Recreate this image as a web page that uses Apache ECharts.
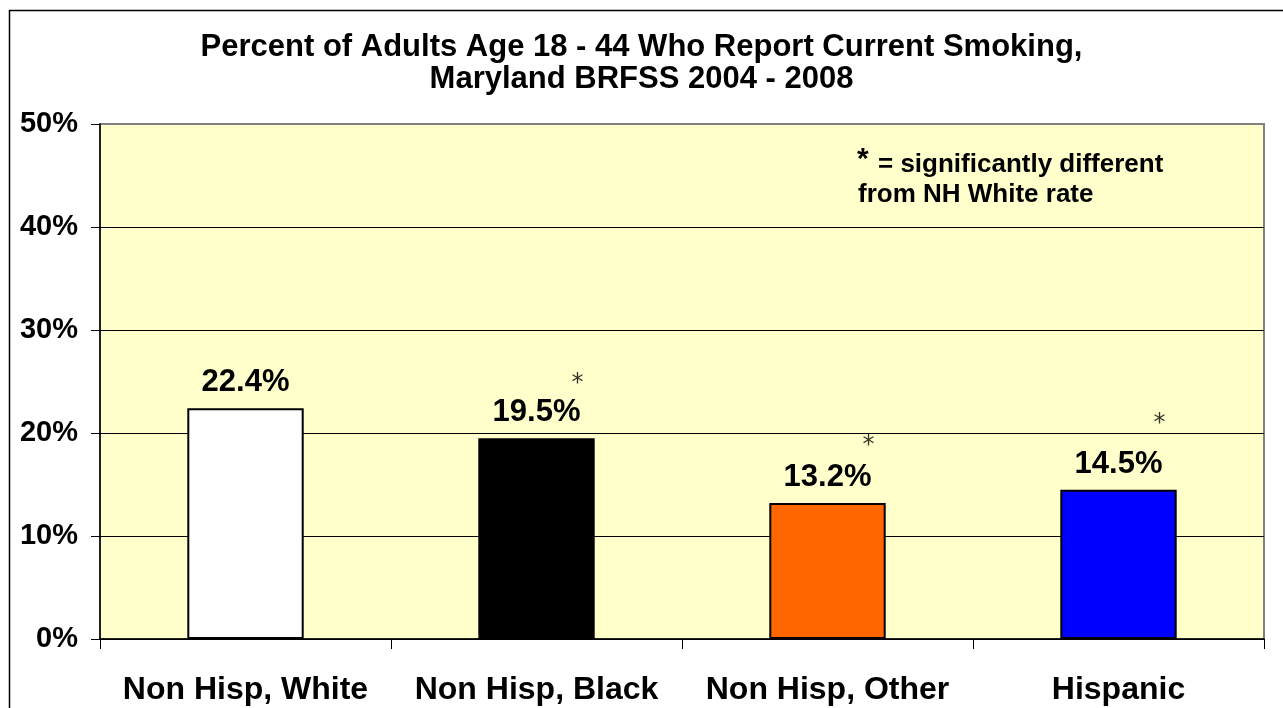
<!DOCTYPE html>
<html>
<head>
<meta charset="utf-8">
<script src="https://cdn.jsdelivr.net/npm/echarts@6/dist/echarts.min.js"></script>
<style>
html,body{margin:0;padding:0;background:#fff;}
#chart{width:1283px;height:708px;}
</style>
</head>
<body>
<div id="chart"></div>
<script>
var categories = ['Non Hisp, White', 'Non Hisp, Black', 'Non Hisp, Other', 'Hispanic'];
var values = [22.4, 19.5, 13.2, 14.5];
var barColors = ['#FFFFFF', '#000000', '#FF6600', '#0000FF'];
// significance markers (asterisk height in % units)
var sigMarks = [null, 25.4, 19.3, 21.5];
var yTicks = [0, 10, 20, 30, 40, 50];
var titleLines = ['Percent of Adults Age 18 - 44 Who Report Current Smoking,', 'Maryland BRFSS 2004 - 2008'];
var noteLines = ['= significantly different', 'from NH White rate'];

var FONT = 'Arial, "Liberation Sans", Helvetica, sans-serif';
var chart = echarts.init(document.getElementById('chart'));

var option = {
  animation: false,
  backgroundColor: '#FFFFFF',
  title: {
    text: titleLines.join('\n'),
    left: 'center',
    top: 26,
    textStyle: { fontFamily: FONT, fontWeight: 'bold', fontSize: 31, color: '#000', lineHeight: 32 }
  },
  grid: {
    left: 100, right: 19, top: 124, bottom: 69,
    show: true, backgroundColor: '#FFFFCC', borderColor: '#808080', borderWidth: 2
  },
  xAxis: {
    type: 'category',
    data: categories,
    boundaryGap: true,
    axisLine: { lineStyle: { color: '#000', width: 1.5 } },
    axisTick: { show: true, interval: 0, length: 10, inside: false, alignWithLabel: false, lineStyle: { color: '#000', width: 1 } },
    axisLabel: { interval: 0, hideOverlap: false, margin: 35, fontFamily: FONT, fontWeight: 'bold', fontSize: 32, color: '#000' }
  },
  yAxis: {
    type: 'value',
    min: yTicks[0], max: yTicks[yTicks.length - 1], interval: 10,
    axisLine: { show: true, lineStyle: { color: '#000', width: 1.5 } },
    axisTick: { show: true, length: 9, inside: false, lineStyle: { color: '#000' } },
    axisLabel: { margin: 22, formatter: '{value}%', fontFamily: FONT, fontWeight: 'bold', fontSize: 29, color: '#000' },
    splitLine: { show: true, lineStyle: { color: ['#000', '#000', '#000', '#000', '#000', '#808080'], width: 1 } }
  },
  series: [
    {
      type: 'bar',
      barWidth: '40%',
      data: values.map(function (v, i) {
        return { value: v, itemStyle: { color: barColors[i], borderColor: '#000', borderWidth: 2 } };
      }),
      label: {
        show: true, position: 'top', distance: 10,
        formatter: function (p) { return p.value.toFixed(1) + '%'; },
        fontFamily: FONT, fontWeight: 'bold', fontSize: 31, color: '#000'
      },
      z: 3
    },
    {
      type: 'scatter',
      symbolSize: 0,
      data: sigMarks.map(function (v, i) { return v == null ? null : [i, v]; }).filter(function (d) { return d; }),
      label: {
        show: true, position: 'inside', offset: [41, 6],
        formatter: '*', fontFamily: '"DejaVu Sans", sans-serif', fontSize: 24, color: '#000'
      },
      z: 4
    }
  ],
  graphic: [
    {
      type: 'rect', silent: true,
      shape: { x: 9.5, y: 10.5, width: 1300, height: 800 },
      style: { fill: 'none', stroke: '#000', lineWidth: 1.5 }
    },
    {
      type: 'text', left: 857, top: 145,
      style: { text: '*', fontFamily: FONT, fontWeight: 'bold', fontSize: 30, fill: '#000' }
    },
    {
      type: 'text', left: 878, top: 152,
      style: { text: noteLines[0], fontFamily: FONT, fontWeight: 'bold', fontSize: 26, fill: '#000' }
    },
    {
      type: 'text', left: 858, top: 182,
      style: { text: noteLines[1], fontFamily: FONT, fontWeight: 'bold', fontSize: 26, fill: '#000' }
    }
  ]
};
chart.setOption(option);
</script>
</body>
</html>
